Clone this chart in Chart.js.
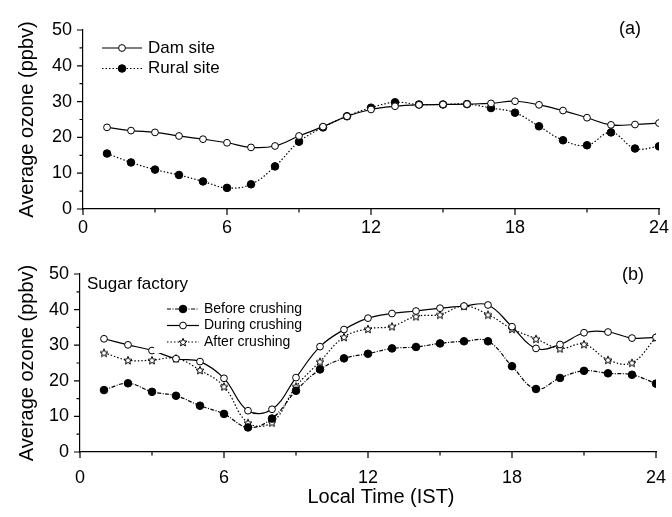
<!DOCTYPE html>
<html>
<head>
<meta charset="utf-8">
<script src="https://cdn.jsdelivr.net/npm/chart.js@4.4.1/dist/chart.umd.min.js"></script>
<style>
  html, body { margin: 0; padding: 0; background: #fff; }
  #wrap { position: relative; width: 672px; height: 517px; }
  .panel { position: absolute; left: 0; width: 672px; }
  #top { top: 0; height: 258px; }
  #bottom { top: 258px; height: 259px; }
</style>
</head>
<body>
<div id="wrap">
  <div class="panel" id="top"><canvas id="chartA"></canvas></div>
  <div class="panel" id="bottom"><canvas id="chartB"></canvas></div>
</div>
<script>
// hour of day (IST)
const hours = [1, 2, 3, 4, 5, 6, 7, 8, 9, 10, 11, 12, 13, 14, 15, 16, 17, 18, 19, 20, 21, 22, 23, 24];

// (a) average ozone, ppbv
const damSite   = [22.8, 21.9, 21.4, 20.4, 19.5, 18.5, 17.2, 17.6, 20.4, 23.0, 25.9, 27.8, 28.7, 29.1, 29.2, 29.3, 29.5, 30.1, 29.1, 27.5, 25.5, 23.5, 23.6, 24.0];
const ruralSite = [15.5, 13.0, 11.0, 9.5, 7.7, 5.9, 6.9, 11.9, 18.8, 22.8, 25.9, 28.3, 29.8, 29.2, 29.2, 29.3, 28.2, 26.9, 23.1, 19.2, 17.8, 21.4, 16.9, 17.5];

// (b) sugar factory, ppbv
const beforeCrushing = [17.4, 19.3, 16.9, 15.8, 13.0, 10.7, 6.9, 9.4, 17.2, 23.2, 26.3, 27.6, 29.1, 29.5, 30.5, 31.1, 31.1, 24.1, 17.7, 20.8, 22.8, 22.1, 21.7, 19.2];
const duringCrushing = [31.8, 30.1, 28.5, 26.2, 25.4, 20.7, 11.6, 12.0, 20.9, 29.6, 34.4, 37.6, 38.9, 39.6, 40.4, 41.0, 41.3, 35.2, 29.1, 30.2, 33.5, 33.7, 32.0, 32.2];
const afterCrushing  = [27.9, 25.8, 25.8, 26.3, 23.0, 18.4, 8.2, 8.3, 18.4, 25.4, 32.3, 34.6, 35.3, 38.1, 38.6, 41.0, 38.6, 34.6, 31.8, 29.1, 30.3, 25.9, 25.1, 32.2];

const FONT = '"Liberation Sans", Arial, sans-serif';
const xTicks = [0, 6, 12, 18, 24];
const yTicks = [0, 10, 20, 30, 40, 50];

function pairs(values) {
    return hours.map((h, i) => ({ x: h, y: values[i] }));
}

// open five-point star used as a marker
function makeStar(size) {
    const c = document.createElement('canvas');
    c.width = c.height = size;
    const g = c.getContext('2d');
    const cx = size / 2, cy = size / 2 + 0.5, R = size / 2 - 0.8, r = R * 0.45;
    g.beginPath();
    for (let k = 0; k < 10; k++) {
        const ang = -Math.PI / 2 + k * Math.PI / 5;
        const rr = k % 2 ? r : R;
        g.lineTo(cx + rr * Math.cos(ang), cy + rr * Math.sin(ang));
    }
    g.closePath();
    g.fillStyle = '#fff';
    g.fill();
    g.strokeStyle = '#000';
    g.lineWidth = 1;
    g.stroke();
    return c;
}
const star = makeStar(10);

function series(label, values, dash, marker) {
    const open = marker === 'open';
    return {
        label: label,
        data: pairs(values),
        borderColor: '#000',
        borderWidth: 1.2,
        borderDash: dash,
        tension: 0.4,
        fill: false,
        pointStyle: marker === 'star' ? star : 'circle',
        pointRadius: open ? 3.4 : 3.8,
        pointBorderWidth: 1,
        pointBorderColor: '#000',
        pointBackgroundColor: open ? '#fff' : '#000'
    };
}

// minor + major tick marks pointing outward, and the hour labels
const axisTicks = {
    id: 'axisTicks',
    afterDraw(chart, args, opts) {
        const ctx = chart.ctx, area = chart.chartArea;
        const sx = chart.scales.x, sy = chart.scales.y;
        ctx.save();
        ctx.strokeStyle = '#000';
        ctx.lineWidth = 1.2;
        ctx.beginPath();
        for (let v = 0; v <= 24; v += 3) {
            const px = sx.getPixelForValue(v);
            ctx.moveTo(px, area.bottom);
            ctx.lineTo(px, area.bottom + (v % 6 === 0 ? 6 : 3.5));
        }
        for (let v = 0; v <= 50; v += 5) {
            const py = sy.getPixelForValue(v);
            ctx.moveTo(area.left, py);
            ctx.lineTo(area.left - (v % 10 === 0 ? 6 : 3.5), py);
        }
        ctx.stroke();

        ctx.fillStyle = '#000';
        ctx.font = '18px ' + FONT;
        ctx.textAlign = 'center';
        ctx.textBaseline = 'alphabetic';
        xTicks.forEach(v => {
            ctx.fillText(String(v), sx.getPixelForValue(v), area.bottom + opts.labelDrop);
        });
        ctx.restore();
    }
};

function drawMarker(ctx, ds, x, y) {
    if (ds.pointStyle instanceof HTMLCanvasElement) {
        ctx.drawImage(ds.pointStyle, x - ds.pointStyle.width / 2, y - ds.pointStyle.height / 2);
        return;
    }
    ctx.beginPath();
    ctx.arc(x, y, ds.pointRadius, 0, Math.PI * 2);
    ctx.fillStyle = ds.pointBackgroundColor;
    ctx.fill();
    ctx.lineWidth = ds.pointBorderWidth;
    ctx.strokeStyle = '#000';
    ctx.stroke();
}

// legend, panel tag and free text
const panelNotes = {
    id: 'panelNotes',
    afterDatasetsDraw(chart, args, opts) {
        const ctx = chart.ctx;
        ctx.save();
        if (opts.box) {
            ctx.fillStyle = '#fff';
            ctx.fillRect(opts.box[0], opts.box[1], opts.box[2], opts.box[3]);
        }
        ctx.textBaseline = 'middle';
        ctx.textAlign = 'left';
        ctx.fillStyle = '#000';
        if (opts.heading) {
            ctx.font = '17px ' + FONT;
            ctx.fillText(opts.heading.text, opts.heading.x, opts.heading.y);
        }
        const L = opts.legend;
        chart.data.datasets.forEach((ds, i) => {
            const y = L.y0 + i * L.dy;
            ctx.strokeStyle = '#000';
            ctx.lineWidth = ds.borderWidth;
            ctx.setLineDash(ds.borderDash || []);
            ctx.beginPath();
            ctx.moveTo(L.x0, y);
            ctx.lineTo(L.x1, y);
            ctx.stroke();
            ctx.setLineDash([]);
            drawMarker(ctx, ds, (L.x0 + L.x1) / 2, y);
            ctx.fillStyle = '#000';
            ctx.font = L.size + 'px ' + FONT;
            ctx.fillText(ds.label, L.tx, y);
        });
        ctx.font = '18px ' + FONT;
        ctx.textAlign = 'center';
        ctx.fillText(opts.tag.text, opts.tag.x, opts.tag.y);
        if (opts.xTitle) {
            ctx.font = '20px ' + FONT;
            ctx.fillText(opts.xTitle.text, opts.xTitle.x, opts.xTitle.y);
        }
        ctx.restore();
    }
};

function panelOptions(yWidth, xHeight, pad, notes, labelDrop) {
    return {
        responsive: true,
        maintainAspectRatio: false,
        animation: false,
        layout: { padding: pad },
        scales: {
            x: {
                type: 'linear',
                min: 0,
                max: 24,
                grid: { display: false, drawTicks: false },
                border: { display: true, color: '#000', width: 1.2 },
                afterBuildTicks: s => { s.ticks = xTicks.map(v => ({ value: v })); },
                afterFit: s => { s.height = xHeight; s.paddingLeft = 0; s.paddingRight = 0; },
                ticks: { display: false }
            },
            y: {
                min: 0,
                max: 50,
                grid: { display: false, drawTicks: false },
                border: { display: true, color: '#000', width: 1.2 },
                afterBuildTicks: s => { s.ticks = yTicks.map(v => ({ value: v })); },
                afterFit: s => { s.width = yWidth; s.paddingTop = 0; s.paddingBottom = 0; },
                ticks: { color: '#000', padding: 11, font: { family: FONT, size: 18 } },
                title: {
                    display: true,
                    text: 'Average ozone (ppbv)',
                    color: '#000',
                    padding: { top: 15, bottom: 0 },
                    font: { family: FONT, size: 20 }
                }
            }
        },
        plugins: {
            legend: { display: false },
            tooltip: { enabled: false },
            axisTicks: { labelDrop: labelDrop },
            panelNotes: notes
        }
    };
}

new Chart(document.getElementById('chartA'), {
    type: 'line',
    data: {
        datasets: [
            series('Dam site', damSite, [], 'open'),
            series('Rural site', ruralSite, [1.5, 2], 'filled')
        ]
    },
    options: panelOptions(83, 49, { top: 30, right: 13, bottom: 0, left: 0 }, {
        legend: { x0: 102, x1: 142, tx: 148, y0: 48, dy: 20.5, size: 17 },
        tag: { text: '(a)', x: 630, y: 29 }
    }, 24),
    plugins: [axisTicks, panelNotes]
});

new Chart(document.getElementById('chartB'), {
    type: 'line',
    data: {
        datasets: [
            series('Before crushing', beforeCrushing, [4, 1.5, 1, 1.5], 'filled'),
            series('During crushing', duringCrushing, [], 'open'),
            series('After crushing', afterCrushing, [1.5, 2], 'star')
        ]
    },
    options: panelOptions(80, 65, { top: 16, right: 16, bottom: 0, left: 0 }, {
        box: [154, 40, 146, 55],
        heading: { text: 'Sugar factory', x: 87, y: 26 },
        legend: { x0: 167, x1: 199, tx: 204, y0: 51, dy: 16.5, size: 14 },
        tag: { text: '(b)', x: 633, y: 17 },
        xTitle: { text: 'Local Time (IST)', x: 381, y: 239 }
    }, 31),
    plugins: [axisTicks, panelNotes]
});
</script>
</body>
</html>
